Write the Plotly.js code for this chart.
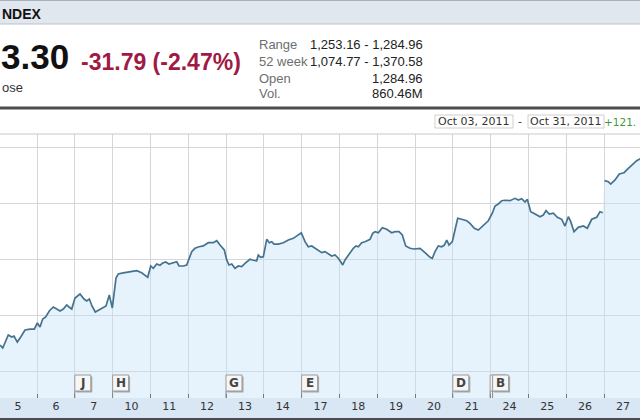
<!DOCTYPE html>
<html><head><meta charset="utf-8">
<script src="https://cdn.plot.ly/plotly-3.0.1.min.js"></script>
<style>html,body{margin:0;padding:0;background:#fff;overflow:hidden}#chart{width:640px;height:420px}</style>
</head><body><div id="chart"></div>
<script>
// ---- data (S&P 500, intraday, Oct 2011) ----
const dayLabels = ['5','6','7','10','11','12','13','14','17','18','19','20','21','24','25','26','27'];
// time in trading days since the open of Oct 5 (integer part = day index, fraction = part of session)
const tradeTime = [
0.021,0.093,0.241,0.331,0.392,0.479,0.569,0.683,0.815,0.929,
1.008,1.079,1.151,1.230,1.325,1.431,1.521,1.608,1.696,1.786,1.847,1.918,
2.005,2.138,2.243,2.315,2.384,2.455,2.542,2.632,2.712,2.825,2.913,2.992,
3.090,3.151,3.283,3.460,3.540,3.638,3.770,3.876,3.929,
4.008,4.077,4.167,4.254,4.315,4.405,4.492,4.579,4.696,4.757,4.870,4.960,
5.021,5.093,5.180,5.286,5.399,5.532,5.664,5.754,5.841,5.955,
6.019,6.079,6.151,6.238,6.325,6.415,6.503,6.635,6.722,6.812,6.854,6.918,6.987,
7.077,7.146,7.209,7.270,7.384,7.516,7.648,7.780,7.913,7.992,
8.090,8.177,8.267,8.354,8.442,8.532,8.619,8.706,8.796,8.884,8.971,
9.034,9.087,9.148,9.235,9.299,9.368,9.439,9.500,9.590,9.677,9.810,9.881,9.942,
10.029,10.135,10.251,10.384,10.471,10.577,10.664,10.754,10.868,10.974,
11.013,11.132,11.265,11.397,11.458,11.529,11.616,11.706,11.775,11.839,11.899,11.987,
12.058,12.130,12.235,12.368,12.455,12.569,12.675,12.765,12.870,12.939,
13.045,13.116,13.204,13.294,13.381,13.513,13.646,13.733,13.823,13.910,13.971,
14.061,14.175,14.307,14.394,14.466,14.553,14.659,14.765,14.881,14.968,
15.056,15.119,15.206,15.320,15.452,15.558,15.675,15.807,15.894,15.966,
15.990,
16.013,16.114,16.177,16.291,16.405,16.529,16.643,16.775,16.865,16.934,16.990
];
const indexLevel = [
1123.7,1121.0,1132.6,1130.8,1131.7,1126.3,1130.8,1137.1,1137.9,1137.9,
1143.3,1139.7,1146.9,1148.7,1154.0,1157.6,1155.8,1154.0,1155.8,1159.4,1157.6,1155.8,
1165.6,1169.2,1164.7,1163.0,1164.7,1158.5,1153.1,1154.9,1155.8,1158.5,1168.3,1156.7,
1183.5,1187.1,1188.0,1188.8,1189.1,1190.0,1188.2,1185.9,1184.1,
1194.2,1192.1,1196.0,1194.8,1196.6,1197.8,1196.0,1197.1,1198.0,1194.2,1194.2,1195.1,
1201.1,1207.0,1210.0,1211.4,1212.1,1215.0,1215.0,1216.8,1212.9,1208.5,
1199.6,1195.1,1196.0,1192.1,1194.2,1193.6,1196.6,1200.2,1199.3,1198.9,1204.0,1202.0,1202.5,
1218.0,1215.0,1215.9,1213.8,1213.8,1215.0,1217.4,1218.9,1221.9,1223.9,
1215.9,1211.4,1212.1,1210.0,1208.5,1206.1,1207.0,1204.9,1203.1,1204.0,1201.1,
1198.0,1195.1,1199.6,1204.0,1207.0,1210.0,1212.1,1211.4,1215.0,1215.9,1218.0,1223.4,1224.8,
1223.9,1228.4,1227.0,1223.9,1224.8,1224.8,1221.9,1212.1,1210.0,1209.4,
1209.4,1210.0,1206.1,1202.0,1201.1,1207.0,1212.1,1211.4,1212.9,1217.4,1212.9,1215.9,
1226.3,1236.8,1235.9,1234.6,1232.3,1227.9,1226.3,1229.3,1232.9,1234.6,
1241.3,1247.8,1249.6,1252.5,1252.9,1252.5,1254.6,1253.1,1254.3,1251.3,1253.8,
1242.7,1240.6,1238.2,1239.7,1243.6,1240.6,1241.3,1237.7,1235.9,1229.9,
1238.2,1233.8,1224.8,1228.7,1229.9,1227.9,1235.9,1237.7,1242.7,1241.8,
null,
1270.4,1269.5,1267.4,1271.0,1276.3,1277.5,1281.4,1285.9,1288.2,1289.5,1290.6
];
const gridLevels = [1100,1150,1200,1250,1300];
const flagLetters = ['J','H','G','E','D','B'];
const flagDays = ['7','10','13','17','21','24'];

const headerTitle = 'NDEX';
const lastPrice = '3.30';
const priceChange = '-31.79 (-2.47%)';
const closeLabel = 'ose';
const statLabels = ['Range','52 week','Open','Vol.'];
const statValues = ['1,253.16 - 1,284.96','1,074.77 - 1,370.58','1,284.96','860.46M'];
const rangeFrom = 'Oct 03, 2011';
const rangeTo = 'Oct 31, 2011';
const rangeChange = '+121.';

// ---- layout helpers (pixel -> paper) ----
const W = 640, H = 420, TOP = 134, BOT = 22, PH = H - TOP - BOT;
const py = p => 1 - (p - TOP) / PH;
const pxx = p => p / W;

const shapes = [];
const ann = [];
// header band
shapes.push({type:'rect',xref:'paper',yref:'paper',x0:0,x1:1,y0:py(24),y1:py(0),fillcolor:'#e1e7ef',line:{width:0},layer:'below'});
shapes.push({type:'line',xref:'paper',yref:'paper',x0:0,x1:1,y0:py(24),y1:py(24),line:{color:'#b9c1cc',width:1}});
shapes.push({type:'line',xref:'paper',yref:'paper',x0:0,x1:1,y0:py(0.5),y1:py(0.5),line:{color:'#a9b1bc',width:1}});
// dark separator
shapes.push({type:'line',xref:'paper',yref:'paper',x0:0,x1:1,y0:py(108),y1:py(108),line:{color:'#4d4d4d',width:3}});
// top border of chart
shapes.push({type:'line',xref:'paper',yref:'paper',x0:0,x1:1,y0:1,y1:1,line:{color:'#c9c9c9',width:1}});
// x axis band
shapes.push({type:'rect',xref:'paper',yref:'paper',x0:0,x1:1,y0:py(420),y1:0,fillcolor:'#d9e6f3',line:{width:0},layer:'below'});
shapes.push({type:'line',xref:'paper',yref:'paper',x0:0,x1:1,y0:py(419),y1:py(419),line:{color:'#4d4d4d',width:2}});
// date range boxes
shapes.push({type:'rect',xref:'paper',yref:'paper',x0:pxx(435),x1:pxx(513),y0:py(128),y1:py(115),fillcolor:'#ffffff',line:{color:'#cfcfcf',width:1}});
shapes.push({type:'rect',xref:'paper',yref:'paper',x0:pxx(528),x1:pxx(604),y0:py(128),y1:py(115),fillcolor:'#ffffff',line:{color:'#cfcfcf',width:1}});

const f = (size,color,family,bold) => ({size,color,family:family||'"Liberation Sans", Arial, sans-serif',weight:bold?'bold':'normal'});
ann.push({text:headerTitle,xref:'paper',yref:'paper',x:pxx(0),y:py(14),xanchor:'left',yanchor:'middle',showarrow:false,font:f(14,'#111',null,true)});
ann.push({text:lastPrice,xref:'paper',yref:'paper',x:pxx(-1),y:py(56),xanchor:'left',yanchor:'middle',showarrow:false,font:f(35,'#111',null,true)});
ann.push({text:priceChange,xref:'paper',yref:'paper',x:pxx(79),y:py(62),xanchor:'left',yanchor:'middle',showarrow:false,font:f(23,'#a01a44',null,true)});
ann.push({text:closeLabel,xref:'paper',yref:'paper',x:pxx(0),y:py(88),xanchor:'left',yanchor:'middle',showarrow:false,font:f(13,'#333')});
const rowY = [45,61.5,78,94];
statLabels.forEach((s,i)=>{
  ann.push({text:s,xref:'paper',yref:'paper',x:pxx(257),y:py(rowY[i]),xanchor:'left',yanchor:'middle',showarrow:false,font:f(13,'#6e6e6e')});
  ann.push({text:statValues[i],xref:'paper',yref:'paper',x:pxx(425),y:py(rowY[i]),xanchor:'right',yanchor:'middle',showarrow:false,font:f(13,'#222')});
});
const dv = '"DejaVu Sans", Verdana, sans-serif';
ann.push({text:rangeFrom,xref:'paper',yref:'paper',x:pxx(474),y:py(121.5),xanchor:'center',yanchor:'middle',showarrow:false,font:f(11,'#333',dv)});
ann.push({text:'-',xref:'paper',yref:'paper',x:pxx(520),y:py(121.5),xanchor:'center',yanchor:'middle',showarrow:false,font:f(11,'#333',dv)});
ann.push({text:rangeTo,xref:'paper',yref:'paper',x:pxx(566),y:py(121.5),xanchor:'center',yanchor:'middle',showarrow:false,font:f(11,'#333',dv)});
ann.push({text:rangeChange,xref:'paper',yref:'paper',x:pxx(638),y:py(121.5),xanchor:'right',yanchor:'middle',showarrow:false,font:f(10.5,'#3f9a3a',dv)});

// event flags
flagLetters.forEach((L,i)=>{
  const t = dayLabels.indexOf(flagDays[i]);
  if (L==='B') {
    shapes.push({type:'rect',xref:'x',yref:'paper',xsizemode:'pixel',xanchor:t,x0:-0.5,x1:15.5,y0:py(391),y1:py(375),fillcolor:'#efefef',line:{color:'#a0a0a0',width:1}});
    shapes.push({type:'line',xref:'x',yref:'paper',xsizemode:'pixel',xanchor:t,x0:-0.5,x1:-0.5,y0:py(391),y1:0,line:{color:'#8a8a8a',width:1}});
  }
  const off = L==='B' ? 2 : 0;
  shapes.push({type:'rect',xref:'x',yref:'paper',xsizemode:'pixel',xanchor:t,x0:off+1.5,x1:off+17.5,y0:py(392.5),y1:py(376.5),fillcolor:'#a8a8a8',line:{width:0}});
  shapes.push({type:'rect',xref:'x',yref:'paper',xsizemode:'pixel',xanchor:t,x0:off,x1:off+16,y0:py(391),y1:py(375),fillcolor:'#f6f6f6',line:{color:'#9a9a9a',width:1}});
  shapes.push({type:'line',xref:'x',yref:'paper',xsizemode:'pixel',xanchor:t,x0:off,x1:off,y0:py(391),y1:0,line:{color:'#8a8a8a',width:1}});
  ann.push({text:L,xref:'x',yref:'paper',x:t,xshift:off+8,y:py(383),xanchor:'center',yanchor:'middle',showarrow:false,font:f(12,'#444',dv,true)});
});

const trace = {
  type:'scatter', mode:'lines', x:tradeTime, y:indexLevel,
  line:{color:'#44728f',width:1.7}, fill:'tozeroy', fillcolor:'rgba(196,226,248,0.42)',
  connectgaps:false, hoverinfo:'skip'
};

const layout = {
  width:W, height:H, margin:{l:0,r:0,t:TOP,b:BOT,pad:0},
  paper_bgcolor:'#ffffff', plot_bgcolor:'#ffffff', showlegend:false,
  xaxis:{range:[0.021,16.952], showgrid:false, zeroline:false, showline:false,
    tickmode:'array', tickvals:dayLabels.map((d,i)=>i+0.5), ticktext:dayLabels,
    ticks:'', ticklen:0, tickfont:{family:dv,size:11,color:'#333'},
    minor:{tickmode:'linear',tick0:0,dtick:1,showgrid:true,gridcolor:'#d6d6d6',gridwidth:1,ticks:'inside',ticklen:4,tickcolor:'#777',tickwidth:1}},
  yaxis:{range:[1076.34,1312.05], tickmode:'array', tickvals:gridLevels, showticklabels:false,
    showgrid:true, gridcolor:'#d6d6d6', gridwidth:1, zeroline:false, showline:false, ticks:''},
  shapes, annotations:ann
};
Plotly.newPlot('chart',[trace],layout,{displayModeBar:false,staticPlot:true});
</script></body></html>
